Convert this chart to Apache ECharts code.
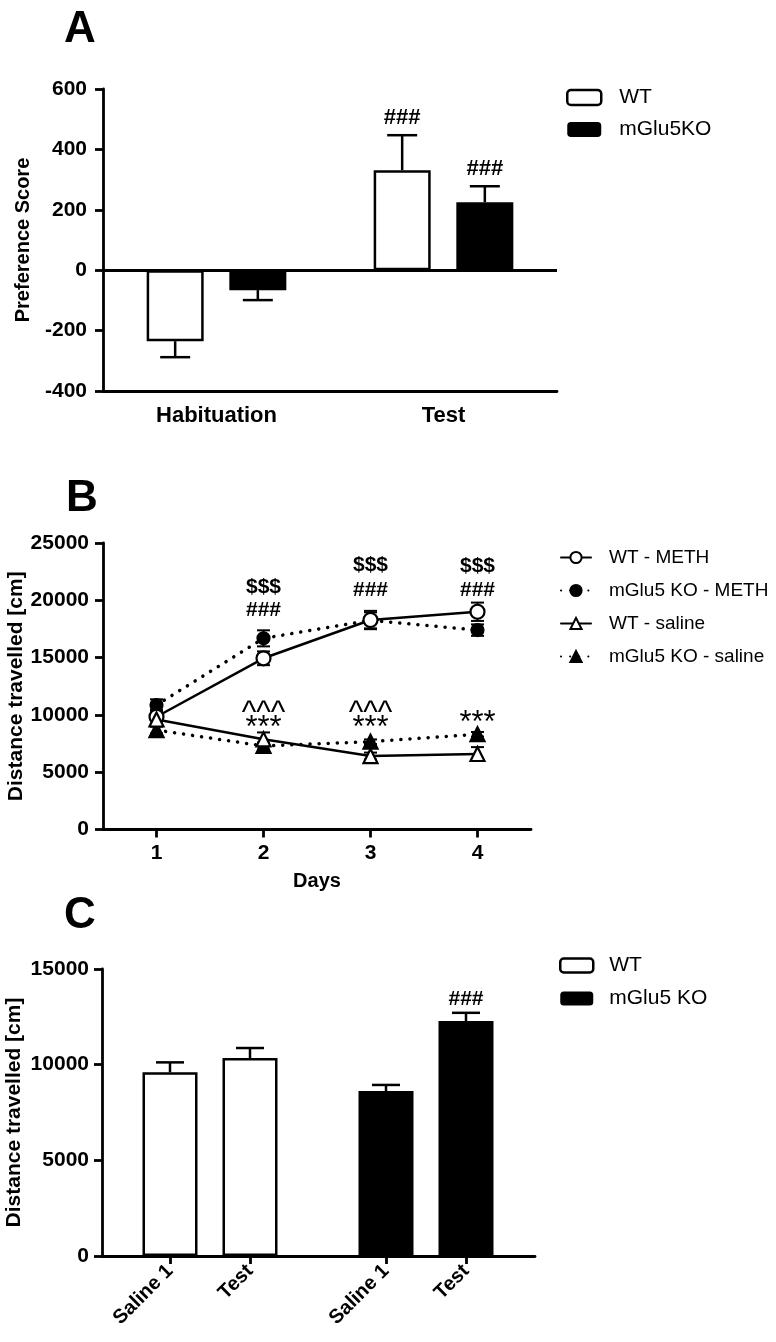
<!DOCTYPE html>
<html><head><meta charset="utf-8">
<script src="https://cdn.jsdelivr.net/npm/echarts@6/dist/echarts.min.js"></script>
<style>html,body{margin:0;padding:0;background:#fff}#main{width:776px;height:1342px}</style>
</head><body><div id="main"></div>
<script>
// ---------- Panel A data ----------
const catsA = ['Habituation', 'Test'];
const wtA = [-235, 331];
const wtAErr = [53, 116];
const koA = [-66, 225];
const koAErr = [33, 53];
const sigAwt = ['', '###'];
const sigAko = ['', '###'];

// ---------- Panel B data ----------
const daysB = [1, 2, 3, 4];
const wtMeth = [9840, 14940, 18280, 19000];
const wtMethErr = [600, 600, 800, 800];
const koMeth = [10860, 16680, 18250, 17400];
const koMethErr = [500, 700, 700, 500];
const wtSal = [9600, 7870, 6410, 6590];
const wtSalErr = [600, 600, 300, 600];
const koSal = [8680, 7290, 7660, 8310];
const koSalErr = [300, 300, 200, 200];
const annBText = ['$$$', '###', '$$$', '###', '$$$', '###', '^^^', '***', '^^^', '***', '***'];
const annBDay = [2, 2, 3, 3, 4, 4, 2, 2, 3, 3, 4];
const annBLevel = [21160, 19150, 23080, 20900, 22990, 20900, 10860, 9550, 10860, 9550, 9990];

// ---------- Panel C data ----------
const catsC = ['Saline 1', 'Test', 'Saline 1', 'Test'];
const wtC = [9600, 10350];
const wtCErr = [520, 520];
const koC = [8620, 12280];
const koCErr = [320, 430];
const sigCwt = ['', ''];
const sigCko = ['', '###'];

// ---------- layout / style ----------
const FONT = 'Arial, "Liberation Sans", sans-serif';
const AX = { lineStyle: { color: '#000', width: 2.8 } };
const TICK = { show: true, length: 8, lineStyle: { color: '#000', width: 2.8 } };
const BAR_W_A = 57, GAP_A = 0.45;
const BAR_W_C = 55;
// group gap in panel C: second genotype group shifted by 0.7 of a slot
const slotC = i => i + 1 + (i >= 2 ? 0.7 : 0);
const plain = v => String(v);

function hashText(x, y, txt, size) {
  return { type: 'text', style: { x: x, y: y, text: txt, font: 'bold ' + size + 'px ' + FONT, fill: '#000', align: 'center', verticalAlign: 'middle' } };
}

function errUp(offsetFn, labels, capW, gap, fsize) {
  return function (params, api) {
    const cx = api.value(0), m = api.value(1), e = api.value(2);
    const p0 = api.coord([cx, m]);
    const dir = m < 0 ? -1 : 1;
    const p1 = api.coord([cx, m + dir * e]);
    const x = p0[0] + offsetFn(api);
    const st = { stroke: '#000', lineWidth: 2.5 };
    const ch = [
      { type: 'line', shape: { x1: x, y1: p0[1], x2: x, y2: p1[1] }, style: st },
      { type: 'line', shape: { x1: x - capW / 2, y1: p1[1], x2: x + capW / 2, y2: p1[1] }, style: st }
    ];
    const lab = labels[params.dataIndex];
    if (lab) ch.push(hashText(x, p1[1] - gap, lab, fsize));
    return { type: 'group', children: ch };
  };
}

function errBoth(capW) {
  return function (params, api) {
    const x = api.value(0), m = api.value(1), e = api.value(2);
    const t = api.coord([x, m + e]), b = api.coord([x, m - e]);
    const st = { stroke: '#000', lineWidth: 2 };
    return { type: 'group', children: [
      { type: 'line', shape: { x1: t[0], y1: t[1], x2: b[0], y2: b[1] }, style: st },
      { type: 'line', shape: { x1: t[0] - capW / 2, y1: t[1], x2: t[0] + capW / 2, y2: t[1] }, style: st },
      { type: 'line', shape: { x1: b[0] - capW / 2, y1: b[1], x2: b[0] + capW / 2, y2: b[1] }, style: st }
    ] };
  };
}

const chart = echarts.init(document.getElementById('main'), null, { renderer: 'canvas' });

const lineSeries = (name, vals, solid, sym, filled) => ({
  name: name, type: 'line', xAxisIndex: 1, yAxisIndex: 1, z: 5,
  data: daysB.map((d, i) => [d, vals[i]]),
  symbol: sym, symbolSize: sym === 'circle' ? (filled ? 12 : 14) : 14,
  itemStyle: { color: filled ? '#000' : '#fff', borderColor: '#000', borderWidth: 2.2 },
  lineStyle: { color: '#000', width: solid ? 2.5 : 3.5, type: solid ? 'solid' : [0.1, 9], cap: 'round' },
  emphasis: { disabled: true }
});
const errSeriesB = (vals, errs) => ({
  type: 'custom', xAxisIndex: 1, yAxisIndex: 1, z: 3, silent: true,
  data: daysB.map((d, i) => [d, vals[i], errs[i]]),
  renderItem: errBoth(13)
});

const option = {
  backgroundColor: '#fff',
  animation: false,
  textStyle: { fontFamily: FONT },
  grid: [
    { left: 103, top: 89, width: 454, height: 302, outerBoundsMode: 'none', containLabel: false },
    { left: 103, top: 543, width: 428, height: 286.5, outerBoundsMode: 'none', containLabel: false },
    { left: 102, top: 969, width: 433, height: 287, outerBoundsMode: 'none', containLabel: false }
  ],
  xAxis: [
    { gridIndex: 0, type: 'category', data: catsA, position: 'bottom',
      axisLine: { onZero: false, ...AX }, axisTick: { show: false },
      axisLabel: { color: '#000', fontWeight: 'bold', fontSize: 22, margin: 14, fontFamily: FONT } },
    { gridIndex: 1, type: 'value', min: 0.5, max: 4.5, splitLine: { show: false },
      axisLine: { onZero: false, ...AX },
      axisTick: { ...TICK, customValues: daysB },
      axisLabel: { color: '#000', fontWeight: 'bold', fontSize: 21, margin: 13, fontFamily: FONT, customValues: daysB },
      name: 'Days', nameLocation: 'middle', nameGap: 42, nameMoveOverlap: false,
      nameTextStyle: { color: '#000', fontWeight: 'bold', fontSize: 20, fontFamily: FONT } },
    { gridIndex: 2, type: 'value', min: 0.15, max: 5.5625, splitLine: { show: false },
      axisLine: { onZero: false, ...AX },
      axisTick: { ...TICK, customValues: catsC.map((c, i) => slotC(i)) },
      axisLabel: { color: '#000', fontWeight: 'bold', fontSize: 20, margin: 12, rotate: 45, fontFamily: FONT,
        customValues: catsC.map((c, i) => slotC(i)),
        formatter: v => { const i = catsC.findIndex((c, k) => Math.abs(slotC(k) - v) < 0.01); return i >= 0 ? catsC[i] : ''; } } }
  ],
  yAxis: [
    { gridIndex: 0, type: 'value', min: -400, max: 600, interval: 200, splitLine: { show: false },
      axisLine: { show: true, ...AX }, axisTick: TICK,
      axisLabel: { color: '#000', fontWeight: 'bold', fontSize: 21, margin: 16, fontFamily: FONT, formatter: plain },
      name: 'Preference Score', nameLocation: 'middle', nameRotate: 90, nameGap: 70, nameMoveOverlap: false,
      nameTextStyle: { color: '#000', fontWeight: 'bold', fontSize: 20, fontFamily: FONT } },
    { gridIndex: 1, type: 'value', min: 0, max: 25000, interval: 5000, splitLine: { show: false },
      axisLine: { show: true, ...AX }, axisTick: TICK,
      axisLabel: { color: '#000', fontWeight: 'bold', fontSize: 21, margin: 14, fontFamily: FONT, formatter: plain },
      name: 'Distance travelled [cm]', nameLocation: 'middle', nameRotate: 90, nameGap: 76, nameMoveOverlap: false,
      nameTextStyle: { color: '#000', fontWeight: 'bold', fontSize: 21, fontFamily: FONT } },
    { gridIndex: 2, type: 'value', min: 0, max: 15000, interval: 5000, splitLine: { show: false },
      axisLine: { show: true, ...AX }, axisTick: TICK,
      axisLabel: { color: '#000', fontWeight: 'bold', fontSize: 21, margin: 13, fontFamily: FONT, formatter: plain },
      name: 'Distance travelled [cm]', nameLocation: 'middle', nameRotate: 90, nameGap: 77, nameMoveOverlap: false,
      nameTextStyle: { color: '#000', fontWeight: 'bold', fontSize: 21, fontFamily: FONT } }
  ],
  legend: [
    { left: 566, top: 87, padding: 0, orient: 'vertical', itemWidth: 34, itemHeight: 15, itemGap: 11, selectedMode: false,
      textStyle: { fontSize: 21, color: '#000', fontFamily: FONT, padding: [0, 0, 0, 13] },
      data: [
        { name: 'WT', icon: 'roundRect', itemStyle: { color: '#fff', borderColor: '#000', borderWidth: 2.5 } },
        { name: 'mGlu5KO', icon: 'roundRect', itemStyle: { color: '#000', borderColor: '#000', borderWidth: 0 } }
      ] },
    { left: 560, top: 548, padding: 0, orient: 'vertical', itemWidth: 30, itemHeight: 14, itemGap: 14, selectedMode: false,
      textStyle: { fontSize: 19, color: '#000', fontFamily: FONT, padding: [0, 0, 0, 13] },
      data: ['WT - METH', 'mGlu5 KO - METH', 'WT - saline', 'mGlu5 KO - saline'] },
    { left: 559, top: 955, padding: 0, orient: 'vertical', itemWidth: 33, itemHeight: 14, itemGap: 12, selectedMode: false,
      textStyle: { fontSize: 21, color: '#000', fontFamily: FONT, padding: [0, 0, 0, 11] },
      data: [
        { name: 'WT ', icon: 'roundRect', itemStyle: { color: '#fff', borderColor: '#000', borderWidth: 2.5 } },
        { name: 'mGlu5 KO', icon: 'roundRect', itemStyle: { color: '#000', borderColor: '#000', borderWidth: 0 } }
      ] }
  ],
  graphic: [
    { type: 'text', left: 64, top: 8, style: { text: 'A', font: 'bold 44px ' + FONT, fill: '#000' } },
    { type: 'text', left: 66, top: 477, style: { text: 'B', font: 'bold 44px ' + FONT, fill: '#000' } },
    { type: 'text', left: 64, top: 894, style: { text: 'C', font: 'bold 44px ' + FONT, fill: '#000' } }
  ],
  series: [
    // Panel A bars
    { name: 'WT', type: 'bar', xAxisIndex: 0, yAxisIndex: 0, data: wtA, barWidth: BAR_W_A, barGap: (GAP_A * 100) + '%',
      itemStyle: { color: '#fff', borderColor: '#000', borderWidth: 2.5 }, emphasis: { disabled: true },
      markLine: { silent: true, symbol: 'none', label: { show: false }, lineStyle: { color: '#000', width: 2.8, type: 'solid' },
        data: [{ yAxis: 0 }] } },
    { name: 'mGlu5KO', type: 'bar', xAxisIndex: 0, yAxisIndex: 0, data: koA, barWidth: BAR_W_A, barGap: (GAP_A * 100) + '%',
      itemStyle: { color: '#000', borderColor: '#000', borderWidth: 2.5 }, emphasis: { disabled: true } },
    { type: 'custom', xAxisIndex: 0, yAxisIndex: 0, z: 1, silent: true,
      data: wtA.map((v, i) => [i, v, wtAErr[i]]),
      renderItem: errUp(() => -BAR_W_A * (1 + GAP_A) / 2, sigAwt, 30, 17, 22) },
    { type: 'custom', xAxisIndex: 0, yAxisIndex: 0, z: 1, silent: true,
      data: koA.map((v, i) => [i, v, koAErr[i]]),
      renderItem: errUp(() => BAR_W_A * (1 + GAP_A) / 2, sigAko, 30, 17, 22) },

    // Panel B
    errSeriesB(wtMeth, wtMethErr),
    errSeriesB(koMeth, koMethErr),
    errSeriesB(wtSal, wtSalErr),
    errSeriesB(koSal, koSalErr),
    lineSeries('mGlu5 KO - METH', koMeth, false, 'circle', true),
    lineSeries('mGlu5 KO - saline', koSal, false, 'triangle', true),
    lineSeries('WT - METH', wtMeth, true, 'circle', false),
    lineSeries('WT - saline', wtSal, true, 'triangle', false),
    { type: 'custom', xAxisIndex: 1, yAxisIndex: 1, z: 6, silent: true,
      data: annBText.map((t, i) => [annBDay[i], annBLevel[i]]),
      renderItem: function (params, api) {
        const t = annBText[params.dataIndex];
        const p = api.coord([api.value(0), api.value(1)]);
        const bold = (t === '$$$' || t === '###');
        // '*' and '^' glyphs sit high in the em box: shift text down so the glyph centre is on the anchor
        const dy = bold ? 0 : 8;
        return { type: 'text', style: { x: p[0], y: p[1] + dy, text: t, fill: '#000', align: 'center', verticalAlign: 'middle',
          font: (bold ? 'bold 21px ' : 'normal 31px ') + FONT } };
      } },

    // Panel C
    { name: 'WT ', type: 'bar', xAxisIndex: 2, yAxisIndex: 2, barWidth: BAR_W_C, barGap: '-100%',
      data: wtC.map((v, i) => [slotC(i), v]),
      itemStyle: { color: '#fff', borderColor: '#000', borderWidth: 2.5 }, emphasis: { disabled: true } },
    { name: 'mGlu5 KO', type: 'bar', xAxisIndex: 2, yAxisIndex: 2, barWidth: BAR_W_C, barGap: '-100%',
      data: koC.map((v, i) => [slotC(i + 2), v]),
      itemStyle: { color: '#000', borderColor: '#000', borderWidth: 2.5 }, emphasis: { disabled: true } },
    { type: 'custom', xAxisIndex: 2, yAxisIndex: 2, z: 1, silent: true,
      data: wtC.map((v, i) => [slotC(i), v, wtCErr[i]]),
      renderItem: errUp(() => 0, sigCwt, 28, 14, 21) },
    { type: 'custom', xAxisIndex: 2, yAxisIndex: 2, z: 1, silent: true,
      data: koC.map((v, i) => [slotC(i + 2), v, koCErr[i]]),
      renderItem: errUp(() => 0, sigCko, 28, 14, 21) }
  ]
};
chart.setOption(option);
</script>
</body></html>
